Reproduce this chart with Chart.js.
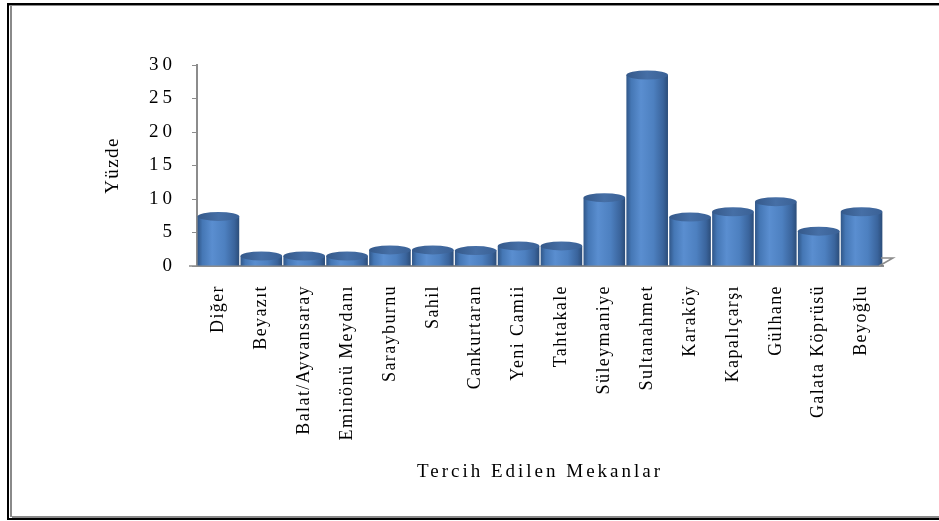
<!DOCTYPE html>
<html lang="tr">
<head>
  <meta charset="UTF-8">
  <title>Tercih Edilen Mekanlar</title>
  <script src="https://cdn.jsdelivr.net/npm/chart.js"></script>
  <style>
    body { margin: 0; background: #fff; }
  </style>
</head>
<body>
  <canvas id="mekanChart" width="939" height="521"></canvas>

  <script>
    // chart values
    const mekanlar = ['Diğer', 'Beyazıt', 'Balat/Ayvansaray', 'Eminönü Meydanı', 'Sarayburnu', 'Sahil',
      'Cankurtaran', 'Yeni Camii', 'Tahtakale', 'Süleymaniye', 'Sultanahmet', 'Karaköy',
      'Kapalıçarşı', 'Gülhane', 'Galata Köprüsü', 'Beyoğlu'];
    const yuzde = [7.4, 1.5, 1.5, 1.5, 2.4, 2.4, 2.3, 3.0, 3.0, 10.2, 28.5, 7.3, 8.1, 9.6, 5.2, 8.1];
    const yTicks = [0, 5, 10, 15, 20, 25, 30];

    const serif = '"Liberation Serif", "Times New Roman", serif';
    const axisGray = '#8c8c8c';

    // gradient across each bar so it reads like a cylinder
    function cylinderFill(c) {
      const chart = c.chart;
      const xs = chart.scales.x;
      if (!xs || !chart.chartArea) return '#4f81bd';
      const cx = xs.getPixelForValue(c.dataIndex);
      const half = xs.width / mekanlar.length * 0.49;
      const g = chart.ctx.createLinearGradient(cx - half, 0, cx + half, 0);
      g.addColorStop(0, '#2f5586');
      g.addColorStop(0.12, '#4577b5');
      g.addColorStop(0.35, '#5a8ed0');
      g.addColorStop(0.65, '#4d80c0');
      g.addColorStop(0.88, '#3a649c');
      g.addColorStop(1, '#2b4c78');
      return g;
    }

    // the original text is set quite loosely, so widen it a little
    function withSpacing(scale, method, spacing) {
      if (scale['_sp_' + method]) return;
      const orig = scale[method];
      scale[method] = function () {
        const prev = this.ctx.letterSpacing;
        this.ctx.letterSpacing = spacing;
        orig.apply(this, arguments);
        this.ctx.letterSpacing = prev;
      };
      scale['_sp_' + method] = true;
    }

    const spacingPlugin = {
      id: 'spacing',
      beforeUpdate(chart) { chart.ctx.letterSpacing = '1.4px'; },
      afterLayout(chart) {
        withSpacing(chart.scales.x, 'drawTitle', '3px');
        withSpacing(chart.scales.y, 'drawLabels', '4px');
      },
      beforeDraw(chart) { chart.ctx.letterSpacing = '1.4px'; }
    };

    // outer frame of the picture
    const framePlugin = {
      id: 'frame',
      beforeDraw(chart) {
        const ctx = chart.ctx;
        ctx.save();
        ctx.fillStyle = '#fff';
        ctx.fillRect(0, 0, chart.width, chart.height);
        ctx.fillStyle = '#000';
        ctx.fillRect(7, 3, chart.width - 7, 2);
        ctx.fillRect(7, 3, 2, 517);
        ctx.fillRect(7, 518, chart.width - 7, 2);
        ctx.fillStyle = '#8a8a8a';
        ctx.fillRect(9, 5, chart.width - 9, 1);
        ctx.fillRect(10, 6, 2, 511);
        ctx.fillRect(12, 516, chart.width - 12, 2);
        ctx.restore();
      }
    };

    // cylinder tops and the little floor edge
    const cylinderPlugin = {
      id: 'cylinder',
      afterDatasetsDraw(chart) {
        const ctx = chart.ctx;
        const meta = chart.getDatasetMeta(0);
        const area = chart.chartArea;
        ctx.save();
        meta.data.forEach(bar => {
          const p = bar.getProps(['x', 'y', 'width'], true);
          const rx = p.width / 2;
          const g = ctx.createLinearGradient(p.x - rx, 0, p.x + rx, 0);
          g.addColorStop(0, '#35598a');
          g.addColorStop(0.5, '#466fa6');
          g.addColorStop(1, '#3a6196');
          ctx.beginPath();
          ctx.ellipse(p.x, p.y, rx, 4.5, 0, 0, Math.PI * 2);
          ctx.fillStyle = g;
          ctx.fill();
        });
        ctx.strokeStyle = axisGray;
        ctx.lineWidth = 1.5;
        ctx.beginPath();
        ctx.moveTo(area.left - 8, area.bottom);
        ctx.lineTo(area.left, area.bottom);
        ctx.moveTo(area.right - 4, area.bottom);
        ctx.lineTo(area.right + 10, area.bottom - 8);
        ctx.lineTo(area.right - 2, area.bottom - 8);
        ctx.stroke();
        ctx.restore();
      }
    };

    const ctx = document.getElementById('mekanChart').getContext('2d');
    new Chart(ctx, {
      type: 'bar',
      data: {
        labels: mekanlar,
        datasets: [{
          label: 'Yüzde',
          data: yuzde,
          backgroundColor: cylinderFill,
          borderWidth: 0,
          barPercentage: 0.97,
          categoryPercentage: 1
        }]
      },
      options: {
        responsive: false,
        animation: false,
        layout: { padding: { left: 102, top: 65, right: 56, bottom: 0 } },
        plugins: {
          legend: { display: false },
          tooltip: { enabled: false }
        },
        scales: {
          x: {
            afterFit(scale) { scale.height = 255; },
            grid: { display: false, drawTicks: false },
            border: { display: true, color: axisGray, width: 2 },
            ticks: {
              autoSkip: false,
              minRotation: 90,
              maxRotation: 90,
              padding: 19,
              color: '#000',
              font: { family: serif, size: 18 }
            },
            title: {
              display: true,
              text: 'Tercih Edilen Mekanlar',
              color: '#000',
              font: { family: serif, size: 19 },
              padding: { top: 0, bottom: 38 }
            }
          },
          y: {
            min: 0,
            max: 30,
            afterFit(scale) { scale.width = 95; },
            afterBuildTicks(scale) { scale.ticks = yTicks.map(v => ({ value: v })); },
            grid: { drawOnChartArea: false, drawTicks: true, tickLength: 5, color: axisGray },
            border: { display: true, color: axisGray, width: 2 },
            ticks: {
              padding: 16,
              color: '#000',
              font: { family: serif, size: 19 }
            },
            title: {
              display: true,
              text: 'Yüzde',
              color: '#000',
              font: { family: serif, size: 19 },
              padding: { top: 0, bottom: 0 }
            }
          }
        }
      },
      plugins: [spacingPlugin, framePlugin, cylinderPlugin]
    });
  </script>
</body>
</html>
